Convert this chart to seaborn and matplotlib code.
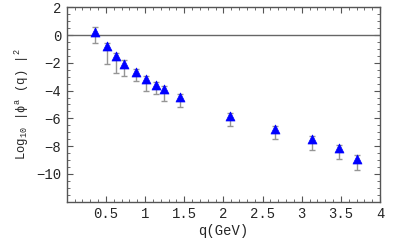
import numpy as np
import pandas as pd
import matplotlib
matplotlib.use("Agg")
import matplotlib.pyplot as plt
from matplotlib.ticker import MultipleLocator, FixedLocator
import seaborn as sns

# values
q_gev = [0.36, 0.51, 0.63, 0.73, 0.885, 1.01, 1.14, 1.24, 1.44, 2.09, 2.66, 3.13, 3.48, 3.70]
log_phi = [0.2, -0.8, -1.5, -2.05, -2.65, -3.18, -3.57, -3.86, -4.46, -5.83, -6.75, -7.47, -8.12, -8.92]
upper = [0.56, -0.6, -1.32, -1.8, -2.48, -2.96, -3.38, -3.69, -4.27, -5.6, -6.55, -7.25, -7.9, -8.63]
lower = [-0.56, -2.12, -2.7, -2.94, -3.33, -4.05, -4.22, -4.77, -5.2, -6.58, -7.52, -8.26, -8.92, -9.69]

x_ticks = [0.5, 1, 1.5, 2, 2.5, 3, 3.5, 4]
x_ticklabels = ["0.5", "1", "1.5", "2", "2.5", "3", "3.5", "4"]
y_ticks = [2, 0, -2, -4, -6, -8, -10]

df = pd.DataFrame({"q": q_gev, "v": log_phi, "hi": upper, "lo": lower})

sns.set_style("ticks")
plt.rcParams["font.family"] = ["Liberation Mono", "DejaVu Sans"]
plt.rcParams["mathtext.fontset"] = "custom"
plt.rcParams["mathtext.rm"] = "Liberation Mono"
plt.rcParams["mathtext.it"] = "Liberation Mono"

fig = plt.figure(figsize=(3.93, 2.43), dpi=100)
ax = fig.add_axes([0.17, 0.17, 0.797, 0.80])

ax.axhline(0, color="#666666", lw=1.0, zorder=1)

yerr = np.array([df["v"] - df["lo"], df["hi"] - df["v"]])
ax.errorbar(df["q"], df["v"], yerr=yerr, fmt="none", ecolor="#959595",
            elinewidth=1.0, capsize=2.5, capthick=1.0, zorder=2)
sns.scatterplot(data=df, x="q", y="v", marker="^", color="#0000ff",
                s=42, edgecolor="#0000ff", linewidth=0.5, zorder=3, ax=ax)

ax.set_xlim(0, 4)
ax.set_ylim(-12, 2)
ax.xaxis.set_major_locator(FixedLocator(x_ticks))
ax.set_xticklabels(x_ticklabels)
ax.xaxis.set_minor_locator(MultipleLocator(0.1))
ax.yaxis.set_major_locator(FixedLocator(y_ticks))
ax.set_yticklabels(["2", "0", "\u22122", "\u22124", "\u22126", "\u22128", "\u221210"])
ax.yaxis.set_minor_locator(MultipleLocator(0.5))

ax.tick_params(which="both", direction="in", top=True, right=True,
               color="#555555", labelsize=10, pad=4)
ax.tick_params(which="major", length=4, width=0.8)
ax.tick_params(which="minor", length=2, width=0.6)

for sp in ax.spines.values():
    sp.set_color("#555555")
    sp.set_linewidth(1.0)

ax.set_xlabel("q(GeV)", fontsize=10, labelpad=2)
ax.set_ylabel(r"Log$_{10}$ |$\phi^{a}$ (q) |$^{2}$", fontsize=8.8, labelpad=4)

plt.savefig("out.png", dpi=100)
plt.close()
